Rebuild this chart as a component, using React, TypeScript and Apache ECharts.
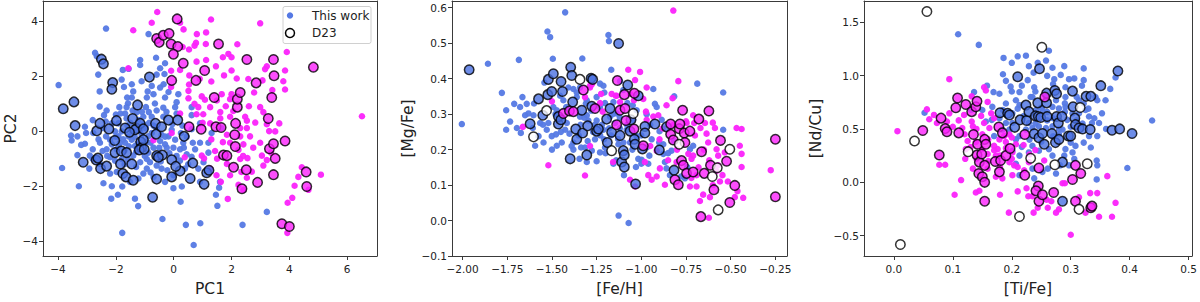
import React, { useEffect, useRef } from "react";
import * as echarts from "echarts";

// ---------- Panel 1: PC1 vs PC2 ----------
const pcBlue: number[][] = [
  [-3.98,1.67],[-3.86,-1.34],[-3.28,-2.0],[-3.55,-0.16],[-3.53,-0.34],[-3.33,-0.87],[-3.33,-0.19],[-3.07,-0.46],[-2.92,-1.36],
  [-2.72,2.84],[-2.66,2.72],[-2.34,3.72],[-2.61,2.05],[-2.56,1.44],[-2.56,0.89],[-2.41,0.58],[-2.32,0.75],[-2.43,-1.89],
  [-2.14,-2.0],[-2.16,-2.45],[-1.93,-2.31],[-1.78,-3.69],[-1.78,-2.01],[-1.76,2.22],[-1.72,1.6],[-1.8,1.87],[-1.56,2.26],
  [-1.61,1.22],[-1.58,1.01],[-1.45,1.22],[-1.88,0.87],[-1.84,0.64],[-1.91,-0.19],[-2.14,-0.48],[-2.2,-0.95],[-2.46,-0.72],
  [-2.55,-0.42],[-2.8,-0.66],[-2.8,-1.01],[-1.34,-2.45],[-1.23,-2.72],[-1.16,2.58],[-1.16,2.4],[-1.11,1.81],[-0.9,1.44],
  [-0.96,0.87],[-0.76,1.64],[-0.7,1.34],[-0.59,2.05],[-0.47,2.28],[-0.32,2.07],[-0.3,2.46],[-0.61,2.66],[-0.87,3.52],
  [-0.86,0.69],[-0.8,-0.42],[-0.82,-1.13],[-0.93,-1.36],[-1.05,-1.54],[-0.7,-1.66],[-0.3,-1.84],[-0.01,-2.07],[0.28,-2.01],
  [0.24,-2.56],[-0.39,-3.19],[0.42,-3.4],[0.69,-4.13],[0.92,-3.34],[1.46,-2.31],[1.51,-2.71],[1.57,-2.05],[1.6,-1.84],
  [2.38,-3.4],[3.22,-2.93],[0.16,1.34],[-0.3,1.22],[-0.36,0.85],[0.05,0.87],[0.1,0.64],[0.62,0.87],[0.62,0.58],
  [0.66,-0.42],[0.74,-0.66],[0.91,-0.42],[1.2,-0.42],[1.03,-1.13],[1.31,-0.07],[1.65,0.11],[1.2,-0.78],[0.45,-0.84],
  [0.33,-0.42],[0.22,-0.66],[-0.01,-0.6],[-0.24,-0.6],[-0.18,-0.19],[-0.42,-0.13],[-0.47,-0.36],[-0.7,-0.6],[-0.88,-0.78],
  [-0.76,-0.07],[-0.96,0.11],[-1.05,0.52],[-1.28,0.69],[-1.42,0.75],[-1.63,0.87],[-1.68,0.64],[-1.91,0.28],[-2.14,0.28],
  [-2.34,-0.19],[-2.32,-0.66],[-2.03,-1.07],[-1.8,-1.01],[-1.59,-1.01],[-1.4,-0.89],[-1.34,-0.54],[-1.45,-0.31],[-1.68,-0.42],
  [-1.86,-0.42],[-1.97,-0.66],[-1.16,-1.13],[-0.93,-1.01],[-0.59,-1.25],[-0.42,-1.36],[-0.22,-1.42],[-0.01,-1.6],[0.39,-1.36],
  [0.22,-1.07],[0.62,-0.93],[0.85,-1.36],[0.91,-1.84],[-1.22,-1.72],[-1.51,-1.84],[-1.97,-1.48],[-2.2,-1.54],[-2.55,-1.19],
  [-2.9,-0.89],[-3.03,-0.07],[-0.93,1.22],[-1.4,1.44],[-0.47,1.58],[-0.18,1.42],[-0.07,0.05],[-0.3,-0.48],[0.05,-0.31],
  [-0.59,0.11],[-0.88,-0.19],[-1.11,-0.13],[-1.56,-0.19],[-1.8,-0.01],[-2.03,-0.01],[-2.2,-0.31],[-2.43,0.11],[-2.78,-0.07],
  [-3.07,0.16],[0.91,0.28],[0.62,0.07],[0.25,-0.07],[-0.36,0.52],[-0.59,0.75],[-0.76,0.52],[-1.22,0.4],[-1.63,0.46],
  [-1.5,0.3],[-1.2,0.15],[-0.95,-0.4],[-1.3,-0.75],[-1.7,-0.7],[-1.0,-0.9],[-0.6,-0.85],[-1.45,0.0],[-1.05,0.25],
  [-2.0,-0.2],[-1.9,-0.55],[-1.75,-0.3],[-1.55,-0.55],[-1.35,-0.2],[-1.25,-0.45],[-1.15,0.05],[-0.85,0.3],[-0.7,0.2],
  [-0.5,-0.6],[-0.3,-0.2],[-0.15,-0.8],[0.1,-0.9],[0.35,-0.6],[0.5,-1.2],[-2.3,-0.9],[-2.6,-0.3],[-2.0,0.6],[-1.6,0.2],
  [-1.3,-1.3],[-0.8,-1.5],[-0.45,-1.1],[-1.7,-1.2],[-2.35,0.35],[-1.1,0.7],[-0.65,1.0],[-0.25,0.7],[0.3,0.2],[0.45,-0.2],
  [-0.05,0.25],[-2.8,0.4],[-3.2,-0.5],[-1.45,1.7],[-0.35,1.7],[0.1,1.05],
];
const pcMagenta: number[][] = [
  [-0.57,4.32],[-0.76,3.93],[-1.4,3.66],[0.22,3.93],[0.34,3.69],[0.8,3.52],[1.12,3.58],[1.29,4.05],[2.99,3.91],
  [0.77,3.2],[1.11,3.16],[0.53,2.96],[0.72,3.1],[0.31,3.05],[1.89,2.8],[2.0,2.68],[1.7,2.68],[2.2,3.15],[3.91,2.87],
  [3.22,2.35],[3.16,2.25],[3.85,2.2],[2.58,1.89],[2.18,1.91],[1.74,2.02],[1.46,2.35],[0.79,2.52],[1.12,2.58],[0.22,2.22],
  [-0.09,2.19],[0.54,2.02],[0.53,1.69],[0.51,1.46],[0.51,1.19],[0.97,1.26],[1.08,1.14],[1.49,1.11],[1.66,1.34],[2.0,1.34],
  [1.95,1.16],[2.78,1.4],[3.07,1.84],[3.41,1.49],[3.85,1.51],[3.79,1.81],[0.72,0.99],[0.85,0.87],[0.79,0.61],[1.02,0.61],
  [1.26,0.87],[1.61,0.69],[1.95,0.52],[2.06,0.73],[2.47,0.52],[2.53,0.38],[2.82,0.31],[2.99,0.87],[3.1,0.69],[3.22,0.25],
  [3.65,0.28],[3.51,-0.01],[1.61,0.46],[1.26,0.28],[1.84,-0.13],[1.95,-0.42],[2.3,-0.19],[2.41,-0.48],[2.64,-0.19],[2.53,0.11],
  [2.3,0.11],[2.99,-0.42],[3.05,-0.89],[3.1,-1.25],[3.36,-0.78],[3.22,-1.05],[2.24,-0.68],[2.3,-1.01],[1.84,-1.19],[1.95,-1.6],
  [2.34,-1.48],[2.53,-1.69],[2.41,-2.13],[2.24,-1.95],[1.87,-2.46],[1.63,-1.84],[1.48,-1.6],[1.26,-1.36],[0.97,-0.89],[1.43,-0.72],
  [2.55,-0.98],[2.7,-1.47],[4.43,-1.31],[4.31,-1.66],[5.09,-1.58],[4.18,-1.98],[4.66,-2.13],[4.1,-2.42],[3.94,-2.6],[3.93,-3.69],
  [6.51,0.54],[0.22,0.64],[-0.07,-0.07],[-0.7,-0.33],[-1.57,2.28],[-0.09,1.6],[0.38,-0.95],[1.05,-0.99],
  [1.0,0.3],[1.3,-0.3],[1.5,-1.0],[1.8,0.9],[2.6,0.9],[2.75,-0.6],[3.3,0.0],[1.7,-0.4],[2.0,2.2],[1.3,1.8],[0.9,1.9],[2.4,-0.9],
];
const pcD23Blue: number[][] = [
  [-3.82,0.81],[-3.45,1.06],[-3.41,0.2],[-3.13,-1.13],[-2.66,0.01],[-2.68,-1.05],[-2.62,-0.98],[-2.55,0.28],[-2.53,-1.36],
  [-2.5,2.61],[-2.43,2.44],[-2.32,-1.27],[-2.24,0.08],[-2.11,1.76],[-2.14,1.52],[-2.04,-0.34],[-1.98,0.38],[-2.03,-0.78],
  [-1.84,-1.19],[-1.81,-0.72],[-1.76,-1.54],[-1.68,0.11],[-1.63,-0.78],[-1.65,-1.66],[-1.45,-1.19],[-1.42,0.46],[-1.4,-1.78],
  [-1.25,0.95],[-1.28,0.1],[-1.34,0.05],[-1.16,0.28],[-1.14,-0.39],[-1.11,-0.6],[-1.05,0.08],[-1.19,-0.68],[-1.02,-0.66],
  [-0.84,1.96],[-0.63,0.28],[-0.61,-0.11],[-0.59,-0.89],[-0.73,-2.4],[-0.59,-1.74],[-0.42,0.16],[-0.39,-0.87],[-0.18,0.4],
  [-0.07,-1.04],[-0.07,-1.66],[0.14,0.4],[0.22,-1.45],[0.36,-0.19],[0.57,-1.72],[0.66,-1.16],[1.05,-1.93],[1.14,-1.51],
  [1.22,-1.42],[-0.53,-0.95],[0.07,-1.28],[-1.05,-0.31],[-1.53,-0.04],
];
const pcD23Magenta: number[][] = [
  [0.12,4.07],[-0.59,3.36],[-0.5,3.22],[-0.36,3.48],[-0.16,3.54],[-0.09,3.16],[0.14,3.07],[-0.01,2.79],[0.33,2.46],
  [-0.07,1.84],[0.77,1.84],[1.07,2.2],[1.55,3.16],[1.4,1.22],[1.46,0.16],[1.64,0.13],[0.53,0.16],[0.95,0.07],[1.72,-0.87],
  [1.84,-0.89],[2.07,-1.31],[2.11,-0.13],[2.14,0.28],[2.13,-0.56],[2.2,0.87],[2.2,1.16],[2.3,1.4],[2.36,-2.09],[2.51,-1.4],
  [2.53,2.6],[2.85,1.75],[2.9,-1.86],[3.27,0.46],[3.31,-0.64],[3.39,1.22],[3.45,2.6],[3.47,2.01],[3.45,-0.46],[3.45,-1.58],
  [3.51,-0.99],[3.85,-0.36],[3.74,-3.36],[4.0,-3.46],[4.58,-1.48],[4.6,-2.01],[4.83,2.32],
];
const pcD23Empty: number[][] = [];

// ---------- Panel 2: [Fe/H] vs [Mg/Fe] ----------
const mgBlue: number[][] = [
  [-2.004,0.272],[-1.858,0.442],[-1.78,0.36],[-1.756,0.311],[-1.756,0.256],[-1.685,0.453],[-1.678,0.32],[-1.696,0.261],
  [-1.665,0.348],[-1.65,0.297],[-1.641,0.329],[-1.674,0.247],[-1.607,0.261],[-1.594,0.211],[-1.542,0.389],[-1.525,0.533],
  [-1.51,0.517],[-1.495,0.456],[-1.426,0.587],[-1.33,0.457],[-1.38,0.371],[-1.343,0.375],[-1.477,0.243],[-1.445,0.22],
  [-1.473,0.211],[-1.417,0.275],[-1.402,0.245],[-1.436,0.339],[-1.454,0.352],[-1.361,0.361],[-1.361,0.348],[-1.305,0.339],
  [-1.3,0.224],[-1.337,0.206],[-1.38,0.2],[-1.346,0.174],[-1.305,0.165],[-1.25,0.167],[-1.231,0.192],[-1.259,0.229],
  [-1.209,0.229],[-1.212,0.256],[-1.207,0.361],[-1.212,0.38],[-1.231,0.386],[-1.25,0.348],[-1.184,0.523],[-1.181,0.506],
  [-1.168,0.425],[-1.156,0.334],[-1.138,0.302],[-1.141,0.17],[-1.156,0.16],[-1.127,0.014],[-1.071,-0.007],[-1.097,0.128],
  [-1.119,0.393],[-1.101,0.368],[-1.078,0.331],[-1.048,0.325],[-1.045,0.284],[-1.026,0.311],[-1.026,0.238],[-1.017,0.174],
  [-1.03,0.151],[-0.998,0.171],[-0.97,0.206],[-0.961,0.16],[-0.955,0.183],[-0.942,0.229],[-0.933,0.371],[-0.924,0.329],
  [-0.914,0.32],[-0.886,0.284],[-0.898,0.252],[-0.877,0.215],[-0.877,0.188],[-0.868,0.165],[-0.859,0.147],[-0.831,0.197],
  [-0.817,0.224],[-0.816,0.35],[-0.84,0.128],[-0.778,0.124],[-0.756,0.119],[-0.743,0.151],[-0.728,0.201],[-0.71,0.211],
  [-0.687,0.386],[-0.542,0.361],[-0.542,0.256],[-1.603,0.297],[-1.575,0.238],[-1.529,0.256],[-1.492,0.32],[-1.408,0.375],
  [-1.38,0.22],[-1.315,0.206],[-1.277,0.197],[-1.203,0.206],[-1.175,0.293],[-1.147,0.275],[-1.082,0.256],[-1.128,0.215],
  [-1.063,0.22],[-1.426,0.256],[-1.473,0.311],[-1.52,0.275],[-1.566,0.275],[-1.631,0.302],[-1.734,0.279],[-1.711,0.329],
  [-1.501,0.238],[-1.547,0.22],[-1.296,0.282],[-1.25,0.282],[-1.231,0.32],[-1.203,0.331],[-1.343,0.293],[-1.305,0.297],
  [-1.27,0.25],[-1.22,0.27],[-1.17,0.24],[-1.12,0.26],[-1.34,0.27],[-1.44,0.29],[-1.28,0.31],[-1.1,0.22],
  [-1.48,0.3],[-1.42,0.32],[-1.35,0.24],[-1.32,0.29],[-1.26,0.27],[-1.23,0.24],[-1.18,0.26],[-1.16,0.3],[-1.2,0.19],
  [-1.13,0.23],[-1.08,0.27],[-1.05,0.2],[-1.0,0.24],[-0.95,0.27],[-0.9,0.22],[-0.85,0.19],[-1.55,0.27],[-1.6,0.33],
  [-1.45,0.25],[-1.39,0.21],[-1.31,0.33],[-1.5,0.2],[-1.12,0.29],[-0.97,0.3],[-1.0,0.16],
];
const mgMagenta: number[][] = [
  [-1.52,0.156],[-1.315,0.127],[-1.287,0.375],[-1.277,0.384],[-1.007,0.419],[-0.97,0.375],[-1.035,0.396],[-1.073,0.425],
  [-0.821,0.592],[-0.793,0.393],[-0.825,0.345],[-0.859,0.325],[-0.905,0.297],[-0.933,0.293],[-0.97,0.284],[-0.974,0.307],
  [-0.747,0.275],[-0.71,0.297],[-0.704,0.275],[-0.669,0.261],[-0.644,0.275],[-0.6,0.276],[-0.588,0.261],[-0.635,0.245],
  [-0.626,0.22],[-0.579,0.201],[-0.57,0.183],[-0.533,0.192],[-0.57,0.156],[-0.546,0.128],[-0.56,0.11],[-0.516,0.11],
  [-0.439,0.258],[-0.467,0.261],[-0.449,0.211],[-0.439,0.188],[-0.439,0.151],[-0.462,0.083],[-0.477,0.066],[-0.43,0.064],
  [-0.276,0.142],[-0.616,0.066],[-0.654,0.073],[-0.672,0.055],[-0.622,0.008],[-0.691,0.096],[-0.728,0.096],[-0.691,0.128],
  [-0.719,0.174],[-0.71,0.183],[-0.737,0.188],[-0.803,0.165],[-0.85,0.17],[-0.896,0.147],[-0.868,0.101],[-0.914,0.124],
  [-0.942,0.115],[-0.961,0.128],[-0.98,0.165],[-1.063,0.115],[-1.035,0.096],[-0.898,0.229],[-0.914,0.197],[-1.041,0.339],
  [-0.989,0.343],[-1.063,0.357],[-1.119,0.334],[-1.138,0.352],[-1.166,0.357],[-1.231,0.331],[-1.315,0.348],[-1.663,0.264],
  [-1.5,0.336],[-1.225,0.357],[-1.287,0.38],[-1.287,0.21],[-1.216,0.307],[-1.158,0.165],[-1.143,0.352],
  [-0.8,0.2],[-0.75,0.28],[-0.7,0.24],[-0.65,0.2],[-0.62,0.17],[-0.58,0.14],[-0.68,0.15],[-0.82,0.27],[-0.88,0.26],
  [-0.95,0.21],[-0.72,0.12],[-0.6,0.1],
];
const mgD23Blue: number[][] = [
  [-1.963,0.425],[-1.622,0.273],[-1.575,0.343],[-1.551,0.297],[-1.52,0.398],[-1.523,0.355],[-1.492,0.414],[-1.501,0.364],
  [-1.464,0.272],[-1.464,0.293],[-1.449,0.392],[-1.441,0.364],[-1.45,0.284],[-1.398,0.174],[-1.395,0.432],[-1.389,0.409],
  [-1.384,0.334],[-1.367,0.258],[-1.361,0.229],[-1.333,0.311],[-1.328,0.247],[-1.305,0.185],[-1.3,0.267],[-1.281,0.401],
  [-1.272,0.398],[-1.277,0.322],[-1.25,0.252],[-1.24,0.258],[-1.194,0.286],[-1.19,0.22],[-1.175,0.316],[-1.166,0.249],
  [-1.127,0.499],[-1.119,0.24],[-1.11,0.165],[-1.101,0.197],[-1.095,0.151],[-1.095,0.185],[-1.076,0.382],[-1.063,0.252],
  [-1.058,0.284],[-1.017,0.352],[-1.039,0.229],[-1.035,0.215],[-1.032,0.103],[-0.994,0.202],[-0.98,0.265],[-0.98,0.247],
  [-0.924,0.272],[-0.899,0.199],[-0.859,0.264],[-0.817,0.142],
];
const mgD23Magenta: number[][] = [
  [-1.436,0.302],[-1.402,0.309],[-1.38,0.307],[-1.324,0.368],[-1.259,0.316],[-1.138,0.27],[-1.134,0.395],[-1.119,0.311],
  [-1.095,0.355],[-1.091,0.316],[-1.086,0.282],[-1.041,0.258],[-1.039,0.359],[-0.989,0.211],[-0.836,0.272],[-0.836,0.243],
  [-0.821,0.227],[-0.812,0.115],[-0.793,0.101],[-0.788,0.259],[-0.784,0.272],[-0.775,0.169],[-0.769,0.311],[-0.76,0.247],
  [-0.765,0.156],[-0.756,0.22],[-0.728,0.252],[-0.747,0.133],[-0.71,0.137],[-0.678,0.286],[-0.663,0.194],[-0.667,0.011],
  [-0.648,0.133],[-0.622,0.309],[-0.613,0.156],[-0.594,0.087],[-0.557,0.226],[-0.523,0.167],[-0.505,0.051],[-0.477,0.099],
  [-0.25,0.229],[-0.25,0.067],
];
const mgD23Empty: number[][] = [
  [-1.603,0.236],[-1.53,0.31],[-1.343,0.398],[-1.166,0.197],[-1.045,0.302],[-0.788,0.215],[-0.603,0.124],[-0.575,0.149],
  [-0.57,0.03],[-0.505,0.201],
];

// ---------- Panel 3: [Ti/Fe] vs [Nd/Cu] ----------
const ndBlue: number[][] = [
  [0.109,1.387],[0.144,1.287],[0.186,1.165],[0.2,1.119],[0.185,1.012],[0.198,0.896],[0.158,0.905],[0.169,0.845],[0.136,0.845],
  [0.131,0.677],[0.179,0.829],[0.21,1.18],[0.224,1.186],[0.229,1.088],[0.237,1.027],[0.244,1.119],[0.258,1.14],[0.263,1.232],
  [0.227,0.957],[0.217,0.905],[0.238,0.89],[0.232,0.799],[0.26,0.997],[0.272,0.966],[0.283,1.006],[0.289,1.088],[0.269,1.073],
  [0.297,0.966],[0.306,0.973],[0.322,1.067],[0.322,0.957],[0.291,0.89],[0.325,0.677],[0.319,0.905],[0.345,0.768],[0.342,0.799],
  [0.367,0.875],[0.376,0.982],[0.438,0.579],[0.396,0.134],[0.344,0.027],[0.344,0.204],[0.345,0.159],[0.334,0.326],[0.322,0.372],
  [0.308,0.341],[0.303,0.28],[0.306,0.219],[0.291,0.311],[0.289,0.25],[0.297,0.159],[0.282,0.159],[0.275,0.082],[0.261,0.128],
  [0.252,0.098],[0.235,0.128],[0.229,0.28],[0.217,0.332],[0.213,0.25],[0.201,0.296],[0.207,0.402],[0.196,0.494],[0.184,0.494],
  [0.17,0.433],[0.166,0.585],[0.156,0.57],[0.15,0.677],[0.167,0.707],[0.19,0.738],[0.207,0.768],[0.213,0.845],[0.235,0.799],
  [0.241,0.677],[0.229,0.555],[0.224,0.494],[0.235,0.509],[0.246,0.524],[0.258,0.509],[0.269,0.524],[0.286,0.494],[0.294,0.585],
  [0.303,0.646],[0.314,0.646],[0.314,0.768],[0.322,0.738],[0.331,0.616],[0.336,0.555],[0.331,0.433],[0.345,0.433],[0.348,0.555],
  [0.359,0.768],[0.353,0.646],[0.263,0.311],[0.269,0.25],[0.246,0.296],[0.235,0.341],[0.258,0.799],[0.269,0.707],[0.252,0.677],
  [0.275,0.768],[0.28,0.692],[0.291,0.799],[0.291,0.707],[0.201,0.646],[0.213,0.723],[0.179,0.601],[0.19,0.555],[0.201,0.555],
  [0.213,0.433],[0.207,0.174],[0.213,0.067],[0.238,0.037],[0.052,0.652],[0.185,0.677],[0.26,0.58],[0.28,0.45],[0.3,0.52],
  [0.26,0.66],[0.27,0.6],[0.25,0.7],[0.29,0.66],[0.31,0.58],[0.32,0.55],[0.28,0.5],[0.24,0.55],[0.22,0.62],[0.21,0.69],
  [0.27,0.43],[0.3,0.37],[0.33,0.69],[0.25,0.38],[0.23,0.4],[0.29,0.74],[0.31,0.8],[0.34,0.6],[0.36,0.5],[0.27,0.92],
  [0.24,0.85],[0.2,0.85],[0.19,0.95],
];
const ndMagenta: number[][] = [
  [0.006,0.479],[0.056,0.683],[0.06,0.591],[0.068,0.631],[0.077,0.165],[0.087,0.165],[0.073,0.555],[0.09,0.57],[0.094,0.966],
  [0.103,-0.116],[0.114,0.021],[0.116,0.509],[0.119,0.631],[0.132,0.805],[0.134,0.524],[0.139,0.378],[0.125,0.387],[0.121,0.22],
  [0.122,0.311],[0.132,0.57],[0.153,0.89],[0.156,0.86],[0.148,0.622],[0.153,0.555],[0.159,0.753],[0.165,0.646],[0.139,-0.095],
  [0.15,0.311],[0.159,0.265],[0.159,0.128],[0.162,0.509],[0.17,0.341],[0.173,0.25],[0.18,-0.116],[0.18,0.143],[0.187,0.433],
  [0.19,0.378],[0.196,0.189],[0.195,-0.284],[0.201,0.067],[0.204,0.159],[0.207,0.357],[0.21,-0.085],[0.225,-0.055],[0.228,-0.131],
  [0.229,0.189],[0.235,-0.131],[0.237,-0.284],[0.24,0.302],[0.244,-0.238],[0.261,-0.238],[0.259,-0.162],[0.267,-0.177],
  [0.275,-0.284],[0.28,-0.253],[0.286,-0.009],[0.29,-0.009],[0.3,-0.491],[0.314,-0.14],[0.325,-0.284],[0.333,-0.101],
  [0.345,-0.101],[0.348,-0.323],[0.362,0.058],[0.37,-0.323],[0.376,-0.192],[0.145,-0.079],[0.176,0.311],[0.201,0.28],
  [0.221,0.113],[0.21,0.143],[0.173,0.052],[0.184,0.037],[0.255,0.204],[0.094,0.646],[0.196,0.448],[0.179,0.402],[0.134,0.128],
  [0.12,0.45],[0.13,0.33],[0.14,0.5],[0.15,0.45],[0.16,0.4],[0.17,0.3],[0.18,0.25],[0.19,0.32],[0.2,0.22],[0.11,0.58],
  [0.1,0.52],[0.17,0.6],[0.2,0.42],[0.22,0.35],[0.23,0.26],[0.16,0.2],[0.14,0.22],
];
const ndD23Blue: number[][] = [
  [0.18,0.652],[0.193,0.646],[0.196,0.631],[0.205,0.515],[0.21,0.988],[0.214,0.585],[0.224,0.723],[0.225,0.579],[0.229,0.662],
  [0.238,0.454],[0.24,0.622],[0.245,0.616],[0.246,0.418],[0.247,1.064],[0.244,0.744],[0.249,0.607],[0.252,0.457],[0.255,0.357],
  [0.259,0.744],[0.259,0.835],[0.26,0.616],[0.268,0.457],[0.273,0.86],[0.274,0.372],[0.276,0.829],[0.276,0.616],[0.279,0.555],
  [0.28,0.402],[0.285,0.616],[0.286,-0.177],[0.286,0.189],[0.296,0.433],[0.3,0.433],[0.303,0.854],[0.304,0.707],[0.307,0.601],
  [0.308,0.54],[0.314,0.509],[0.32,0.5],[0.326,0.805],[0.334,0.805],[0.333,0.494],[0.351,0.905],[0.37,0.488],[0.38,1.043],
  [0.383,0.5],[0.404,0.457],
];
const ndD23Magenta: number[][] = [
  [0.049,0.485],[0.077,0.256],[0.08,0.601],[0.087,0.503],[0.09,0.473],[0.105,0.698],[0.108,0.79],[0.11,0.463],[0.122,0.729],
  [0.132,0.662],[0.135,0.448],[0.139,0.707],[0.141,0.759],[0.141,0.256],[0.142,0.357],[0.144,0.082],[0.145,0.189],[0.149,0.265],
  [0.15,0.052],[0.154,0.402],[0.156,0.357],[0.154,0.159],[0.154,0.0],[0.154,-0.177],[0.172,0.195],[0.178,0.518],[0.184,0.463],
  [0.179,0.098],[0.181,0.204],[0.19,0.25],[0.197,0.317],[0.222,0.448],[0.222,0.067],[0.245,-0.034],[0.241,-0.079],[0.246,-0.177],
  [0.252,-0.116],[0.256,0.799],[0.246,0.134],[0.271,-0.095],[0.303,0.027],[0.308,0.159],[0.308,-0.177],[0.317,0.082],
  [0.334,-0.238],[0.336,-0.223],
];
const ndD23Empty: number[][] = [
  [0.056,1.6],[0.011,-0.582],[0.035,0.387],[0.126,0.287],[0.232,0.226],[0.251,1.265],[0.273,0.165],[0.316,0.701],[0.328,0.174],
  [0.314,-0.253],[0.213,-0.32],
];

// ---------- axes ----------
const pcXTicks = [-4, -2, 0, 2, 4, 6];
const pcYTicks = [-4, -2, 0, 2, 4];
const mgXTicks = [-2.0, -1.75, -1.5, -1.25, -1.0, -0.75, -0.5, -0.25];
const mgYTicks = [-0.1, 0.0, 0.1, 0.2, 0.3, 0.4, 0.5, 0.6];
const ndXTicks = [0.0, 0.1, 0.2, 0.3, 0.4, 0.5];
const ndYTicks = [-0.5, 0.0, 0.5, 1.0, 1.5];

const BLUE = "#5579e4";
const RING_BLUE = "#4a70e2";
const MAGENTA = "#fb22fb";
const FONT = "DejaVu Sans";
const FRAME = "#3a3a3a";

const fmt = (d: number) => (v: number) => {
  const r = Math.round(v * 1e6) / 1e6;
  return (r < 0 ? "\u2212" : "") + Math.abs(r).toFixed(d);
};

export default function App() {
  const ref = useRef<HTMLDivElement>(null);
  useEffect(() => {
    document.body.style.margin = "0";
    const chart = echarts.init(ref.current!, null, { renderer: "svg" });
    const grids = [
      { left: 43, top: 1, width: 334, height: 262 },
      { left: 452, top: 1, width: 335, height: 262 },
      { left: 864, top: 1, width: 329, height: 262 },
    ];

    const mkAxis = (gi: number, min: number, max: number, ticks: number[], dec: number, name: string, nameGap: number, isY: boolean) => ({
      gridIndex: gi,
      type: "value",
      position: isY ? "left" : "bottom",
      min,
      max,
      name,
      nameLocation: "middle",
      nameGap,
      nameTextStyle: { fontFamily: FONT, fontSize: 15.5, color: "#222" },
      axisLine: { show: true, onZero: false, lineStyle: { color: FRAME, width: 1 } },
      splitLine: { show: false },
      axisTick: { show: true, length: 4, inside: false, lineStyle: { color: FRAME }, customValues: ticks },
      axisLabel: {
        show: true,
        customValues: ticks,
        formatter: fmt(dec),
        fontFamily: FONT,
        fontSize: 10.5,
        color: "#222",
        margin: isY ? 5 : 7,
      },
    });
    const mkFrame = (gi: number, min: number, max: number, isY: boolean) => ({
      gridIndex: gi,
      type: "value",
      position: isY ? "right" : "top",
      min,
      max,
      axisLine: { show: true, onZero: false, lineStyle: { color: FRAME, width: 1 } },
      splitLine: { show: false },
      axisTick: { show: false },
      axisLabel: { show: false },
    });

    const xr = [[-4.52, 7.03], [-2.059, -0.185], [-0.0507, 0.5056]];
    const yr = [[-4.53, 4.72], [-0.1, 0.619], [-0.69, 1.698]];

    const xAxes: any[] = [
      mkAxis(0, xr[0][0], xr[0][1], pcXTicks, 0, "PC1", 25, false),
      mkAxis(1, xr[1][0], xr[1][1], mgXTicks, 2, "[Fe/H]", 25, false),
      mkAxis(2, xr[2][0], xr[2][1], ndXTicks, 1, "[Ti/Fe]", 25, false),
      mkFrame(0, xr[0][0], xr[0][1], false),
      mkFrame(1, xr[1][0], xr[1][1], false),
      mkFrame(2, xr[2][0], xr[2][1], false),
    ];
    const yAxes: any[] = [
      mkAxis(0, yr[0][0], yr[0][1], pcYTicks, 0, "PC2", 24, true),
      mkAxis(1, yr[1][0], yr[1][1], mgYTicks, 1, "[Mg/Fe]", 36, true),
      mkAxis(2, yr[2][0], yr[2][1], ndYTicks, 1, "[Nd/Cu]", 40, true),
      mkFrame(0, yr[0][0], yr[0][1], true),
      mkFrame(1, yr[1][0], yr[1][1], true),
      mkFrame(2, yr[2][0], yr[2][1], true),
    ];

    const dots = (gi: number, data: number[][], color: string, name: string) => ({
      type: "scatter",
      name,
      xAxisIndex: gi,
      yAxisIndex: gi,
      data,
      symbol: "circle",
      symbolSize: 6.5,
      itemStyle: { color, opacity: 0.95 },
      silent: true,
    });
    const rings = (gi: number, data: number[][], fill: string) => ({
      type: "scatter",
      name: "D23",
      xAxisIndex: gi,
      yAxisIndex: gi,
      data,
      symbol: "circle",
      symbolSize: 9.5,
      itemStyle: { color: fill, borderColor: "#000", borderWidth: 1.5 },
      silent: true,
      z: 3,
    });

    const series: any[] = [];
    const sets = [
      [pcBlue, pcMagenta, pcD23Blue, pcD23Magenta, pcD23Empty],
      [mgBlue, mgMagenta, mgD23Blue, mgD23Magenta, mgD23Empty],
      [ndBlue, ndMagenta, ndD23Blue, ndD23Magenta, ndD23Empty],
    ];
    sets.forEach((s, gi) => {
      series.push(dots(gi, s[0], BLUE, "This work"));
      series.push(dots(gi, s[1], MAGENTA, "This work (2)"));
      series.push(rings(gi, s[2], RING_BLUE));
      series.push(rings(gi, s[3], MAGENTA));
      series.push(rings(gi, s[4], "#fff"));
    });

    chart.setOption({
      animation: false,
      backgroundColor: "#fff",
      grid: grids,
      xAxis: xAxes,
      yAxis: yAxes,
      series,
      graphic: [
        {
          type: "group",
          z: 100,
          children: [
            { type: "rect", shape: { x: 283, y: 6.5, width: 88, height: 37, r: 2 }, style: { fill: "rgba(255,255,255,0.85)", stroke: "#d0d0d0", lineWidth: 1 } },
            { type: "circle", shape: { cx: 290, cy: 15.5, r: 3.2 }, style: { fill: BLUE } },
            { type: "text", x: 312, y: 15.5, style: { text: "This work", font: `12px '${FONT}'`, fill: "#222", verticalAlign: "middle" } },
            { type: "circle", shape: { cx: 290, cy: 33, r: 4.5 }, style: { fill: "#fff", stroke: "#000", lineWidth: 1.5 } },
            { type: "text", x: 312, y: 33, style: { text: "D23", font: `12px '${FONT}'`, fill: "#222", verticalAlign: "middle" } },
          ],
        },
      ],
    });
    return () => chart.dispose();
  }, []);
  return <div ref={ref} style={{ width: 1200, height: 302 }} />;
}
